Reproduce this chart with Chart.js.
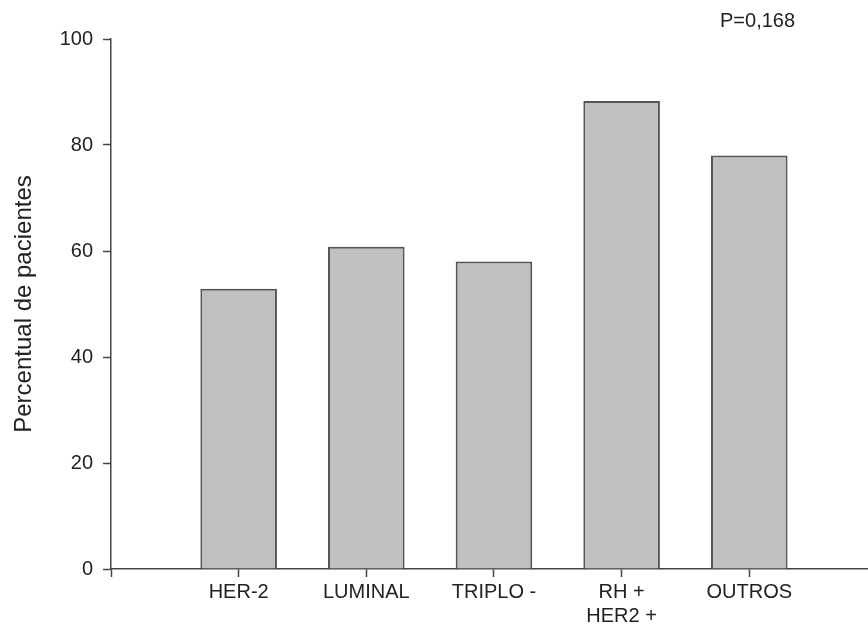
<!DOCTYPE html>
<html>
<head>
<meta charset="utf-8">
<script src="https://cdn.jsdelivr.net/npm/chart.js@4/dist/chart.umd.min.js"></script>
<style>
  html, body { margin: 0; padding: 0; background: #fff; }
  #wrap { width: 868px; height: 626px; }
</style>
</head>
<body>
<div id="wrap"><canvas id="myChart"></canvas></div>
<script>
// categorias (posicao 1..5 no eixo x)
const categorias = ['HER-2', 'LUMINAL', 'TRIPLO -', ['RH +', 'HER2 +'], 'OUTROS'];
const posicoes = [1, 2, 3, 4, 5];
const percentuais = [52.9, 60.8, 58.0, 88.3, 78.0];
const yTicks = [0, 20, 40, 60, 80, 100];
const pValor = 'P=0,168';

const fonte = 'Liberation Sans, Arial, sans-serif';
const eixo = '#444';

const pTexto = {
    id: 'pTexto',
    afterDraw(chart) {
        const ctx = chart.ctx;
        ctx.save();
        ctx.font = '20px ' + fonte;
        ctx.fillStyle = '#222';
        ctx.textAlign = 'left';
        ctx.textBaseline = 'middle';
        ctx.fillText(pValor, 720, 21);
        ctx.restore();
    }
};

const data = {
    datasets: [{
        label: 'Percentual de pacientes',
        data: posicoes.map((x, i) => ({ x: x, y: percentuais[i] })),
        backgroundColor: '#c0c0c0',
        borderColor: '#555',
        borderWidth: 2,
        barPercentage: 0.6,
        categoryPercentage: 1
    }]
};

// linhas de grade invisiveis, so as marcas de tick aparecem
const grade = { offset: false, drawOnChartArea: true, drawTicks: true, tickLength: 8, color: 'rgba(0,0,0,0)', tickColor: eixo, tickWidth: 1.5, lineWidth: 1 };

const config = {
    type: 'bar',
    data: data,
    plugins: [pTexto],
    options: {
        responsive: true,
        maintainAspectRatio: false,
        animation: false,
        layout: { padding: { top: 39, right: 0, left: 0, bottom: 0 } },
        plugins: {
            legend: { display: false },
            tooltip: { enabled: false }
        },
        scales: {
            x: {
                type: 'linear',
                min: 0,
                max: 5.93,
                offset: false,
                afterBuildTicks: (scale) => {
                    scale.ticks = [0].concat(posicoes).map(v => ({ value: v }));
                },
                afterFit: (scale) => { scale.height = 57; },
                border: { color: eixo, width: 1.5 },
                grid: grade,
                ticks: {
                    autoSkip: false,
                    maxRotation: 0,
                    padding: 3,
                    color: '#222',
                    font: { family: fonte, size: 20 },
                    callback: (v) => {
                        const i = posicoes.indexOf(v);
                        return i >= 0 ? categorias[i] : '';
                    }
                }
            },
            y: {
                min: 0,
                max: 100,
                afterBuildTicks: (scale) => {
                    scale.ticks = yTicks.map(v => ({ value: v }));
                },
                afterFit: (scale) => { scale.width = 111; },
                border: { color: eixo, width: 1.5 },
                grid: grade,
                ticks: {
                    padding: 10,
                    color: '#222',
                    font: { family: fonte, size: 20 }
                },
                title: {
                    display: true,
                    text: 'Percentual de pacientes',
                    color: '#222',
                    font: { family: fonte, size: 24 },
                    padding: { top: 10, bottom: 0 }
                }
            }
        }
    }
};

new Chart(document.getElementById('myChart'), config);
</script>
</body>
</html>
